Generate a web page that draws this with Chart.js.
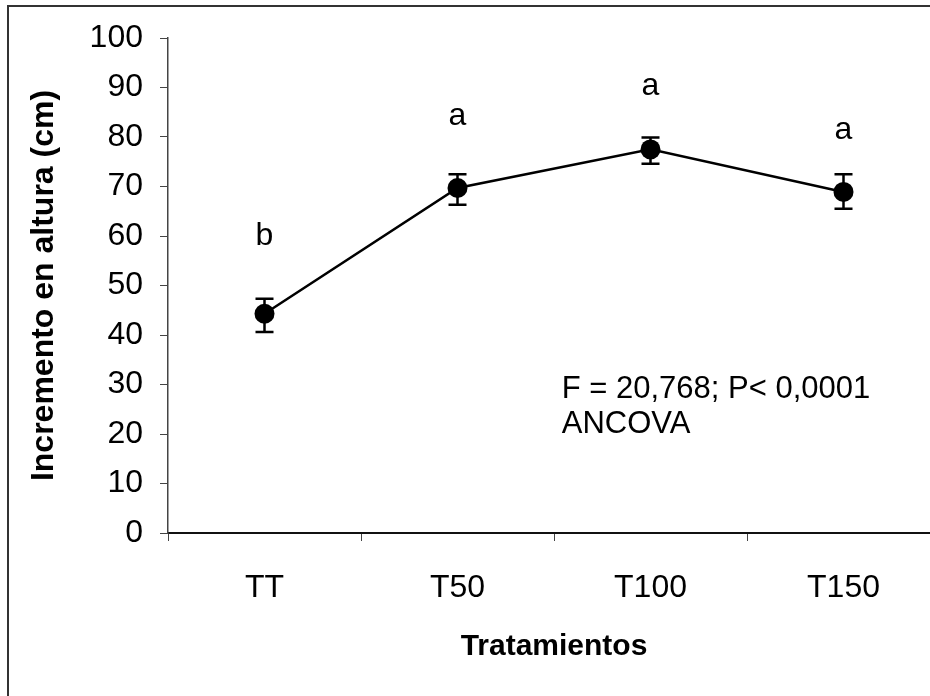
<!DOCTYPE html>
<html>
<head>
<meta charset="utf-8">
<script src="https://cdn.jsdelivr.net/npm/chart.js@4/dist/chart.umd.min.js"></script>
<style>
  html, body { margin: 0; padding: 0; background: #fff; overflow: hidden; }
  #wrap { position: relative; width: 930px; height: 696px; overflow: hidden; }
  #frame { position: absolute; left: 7px; top: 5px; width: 1000px; height: 800px;
           border-left: 2px solid #333; border-top: 2px solid #333; box-sizing: border-box; pointer-events: none; }
  canvas { position: absolute; left: 0; top: 0; }
</style>
</head>
<body>
<div id="wrap">
  <canvas id="chart" width="950" height="696" style="width:950px;height:696px"></canvas>
  <div id="frame"></div>
</div>
<script>
// data
const tratamientos = ['TT', 'T50', 'T100', 'T150']
const incremento = [44.3, 69.7, 77.5, 68.9]
const errAlto = [47.3, 72.5, 79.9, 72.5]
const errBajo = [40.6, 66.3, 74.6, 65.5]
const letras = ['b', 'a', 'a', 'a']
const letrasY = [58.2, 82.5, 88.4, 79.5]
const textoStats = ['F = 20,768; P< 0,0001', 'ANCOVA']
const yTicks = [0, 10, 20, 30, 40, 50, 60, 70, 80, 90, 100]

const fontFam = '"Liberation Sans", Arial, sans-serif'

//=============== ERROR BARS, LETTERS AND ANCOVA TEXT ===============
const extras = {
  id: 'extras',
  afterDatasetsDraw(chart) {
    const ctx = chart.ctx
    const x = chart.scales.x
    const y = chart.scales.y
    ctx.save()
    ctx.strokeStyle = '#000'
    ctx.lineWidth = 2.5
    tratamientos.forEach((t, i) => {
      const px = x.getPixelForValue(i)
      const top = y.getPixelForValue(errAlto[i])
      const bot = y.getPixelForValue(errBajo[i])
      ctx.beginPath()
      ctx.moveTo(px, top); ctx.lineTo(px, bot)
      ctx.moveTo(px - 9, top); ctx.lineTo(px + 9, top)
      ctx.moveTo(px - 9, bot); ctx.lineTo(px + 9, bot)
      ctx.stroke()
    })
    ctx.fillStyle = '#000'
    ctx.textAlign = 'center'
    ctx.textBaseline = 'alphabetic'
    ctx.font = '32px ' + fontFam
    letras.forEach((l, i) => {
      ctx.fillText(l, x.getPixelForValue(i), y.getPixelForValue(letrasY[i]))
    })
    ctx.textAlign = 'left'
    ctx.font = '31px ' + fontFam
    ctx.fillText(textoStats[0], x.getPixelForValue(1.54), y.getPixelForValue(27.3))
    ctx.fillText(textoStats[1], x.getPixelForValue(1.54), y.getPixelForValue(20.2))
    ctx.restore()
  }
}

new Chart(document.getElementById('chart'), {
  type: 'line',
  data: {
    labels: tratamientos,
    datasets: [{
      data: incremento,
      borderColor: '#000',
      borderWidth: 2.5,
      backgroundColor: '#000',
      pointRadius: 10,
      pointBackgroundColor: '#000',
      pointBorderWidth: 0,
      tension: 0
    }]
  },
  options: {
    responsive: false,
    animation: false,
    layout: { padding: { top: 38, right: 6, left: 0, bottom: 0 } },
    plugins: { legend: { display: false }, tooltip: { enabled: false } },
    scales: {
      x: {
        offset: true,
        grid: { offset: true, drawOnChartArea: false, drawTicks: true, tickLength: 8, color: '#444', lineWidth: 1 },
        border: { color: '#111', width: 2 },
        ticks: { color: '#000', font: { family: fontFam, size: 32 }, padding: 28 },
        title: { display: true, text: 'Tratamientos', color: '#000',
                 font: { family: fontFam, size: 30, weight: 'bold' }, padding: { top: 31, bottom: 31 } },
        afterFit(s) { s.height = 163 }
      },
      y: {
        min: 0, max: 100,
        afterBuildTicks(s) { s.ticks = yTicks.map(v => ({ value: v })) },
        grid: { drawOnChartArea: false, drawTicks: true, tickLength: 8, color: '#444', lineWidth: 1 },
        border: { color: '#444', width: 1.5 },
        ticks: { color: '#000', font: { family: fontFam, size: 32 }, padding: 17 },
        title: { display: true, text: 'Incremento en altura (cm)', color: '#000',
                 font: { family: fontFam, size: 32, weight: 'bold' }, padding: { top: 25, bottom: 25 } },
        afterFit(s) { s.width = 168 }
      }
    }
  },
  plugins: [extras]
})
</script>
</body>
</html>
